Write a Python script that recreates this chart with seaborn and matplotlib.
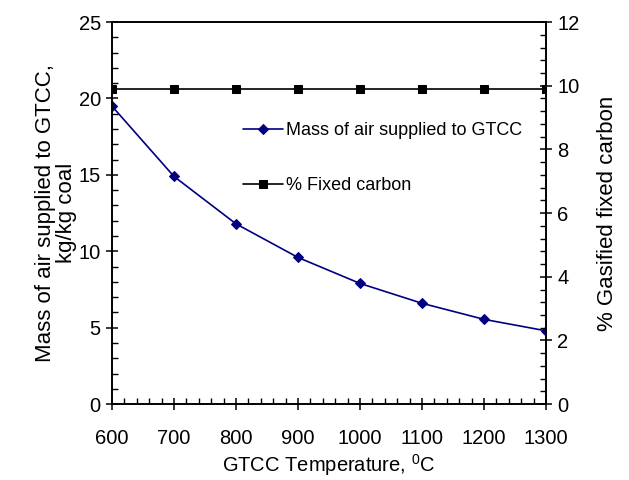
import matplotlib
matplotlib.use("Agg")
import matplotlib.pyplot as plt
from matplotlib.ticker import MultipleLocator
import seaborn as sns
import pandas as pd

# GTCC temperature (°C) and results
temperature = [600, 700, 800, 900, 1000, 1100, 1200, 1300]
air_mass = [19.5, 14.9, 11.8, 9.6, 7.9, 6.6, 5.55, 4.8]
fixed_carbon = [9.9, 9.9, 9.9, 9.9, 9.9, 9.9, 9.9, 9.9]

air_label = "Mass of air supplied to GTCC"
carbon_label = "% Fixed carbon"

sns.set_style("ticks")
plt.rcParams["font.family"] = ["Liberation Sans", "DejaVu Sans"]
plt.rcParams["mathtext.fontset"] = "custom"
plt.rcParams["mathtext.rm"] = "Liberation Sans"
plt.rcParams["mathtext.it"] = "Liberation Sans"
plt.rcParams["text.color"] = "black"
plt.rcParams["axes.labelcolor"] = "black"
plt.rcParams["xtick.color"] = "black"
plt.rcParams["ytick.color"] = "black"

df = pd.DataFrame({"T": temperature, "air": air_mass, "carbon": fixed_carbon})

fig = plt.figure(figsize=(6.29, 4.80), dpi=100)
ax = fig.add_axes([0.178, 0.158, 0.690, 0.796])
ax2 = ax.twinx()

sns.lineplot(data=df, x="T", y="air", ax=ax, color="#000080", lw=1.2,
             marker="D", markersize=5.5, markeredgecolor="#000080",
             label=air_label, legend=False)
sns.lineplot(data=df, x="T", y="carbon", ax=ax2, color="black", lw=1.2,
             marker="s", markersize=5.5, markeredgecolor="black",
             label=carbon_label, legend=False)

ax.set_xlim(600, 1300)
ax.set_ylim(0, 25)
ax2.set_ylim(0, 12)

ax.xaxis.set_major_locator(MultipleLocator(100))
ax.xaxis.set_minor_locator(MultipleLocator(20))
ax.yaxis.set_major_locator(MultipleLocator(5))
ax.yaxis.set_minor_locator(MultipleLocator(1))
ax2.yaxis.set_major_locator(MultipleLocator(2))
ax2.yaxis.set_minor_locator(MultipleLocator(0.4))

tick_fs = 14.5
for a in (ax, ax2):
    for s in a.spines.values():
        s.set_visible(True)
        s.set_color("black")
        s.set_linewidth(1.2)
    a.tick_params(which="major", direction="inout", length=8, width=1.1,
                  labelsize=tick_fs, colors="black", labelcolor="black", pad=4)
    a.tick_params(which="minor", direction="in", length=4, width=1.0,
                  colors="black")
ax.tick_params(axis="x", which="major", pad=14)
ax.tick_params(axis="x", which="both", top=False)
ax2.tick_params(axis="x", which="both", top=False, bottom=False)

ax.set_xlabel("GTCC Temperature, $^{0}$C", fontsize=14.5, labelpad=3,
              color="black")
ax.set_ylabel("Mass of air supplied to GTCC,\nkg/kg coal", fontsize=16,
              labelpad=1, linespacing=1.0, color="black")
ax2.set_ylabel("% Gasified fixed carbon", fontsize=16, labelpad=13,
               color="black")

h1, l1 = ax.get_legend_handles_labels()
h2, l2 = ax2.get_legend_handles_labels()
leg = ax.legend(h1 + h2, l1 + l2, loc="upper left",
                bbox_to_anchor=(0.285, 0.757), frameon=False, fontsize=13,
                handlelength=2.2, handletextpad=0.2, labelspacing=2.1,
                borderaxespad=0, labelcolor="black")

fig.savefig("out.png", dpi=100)
